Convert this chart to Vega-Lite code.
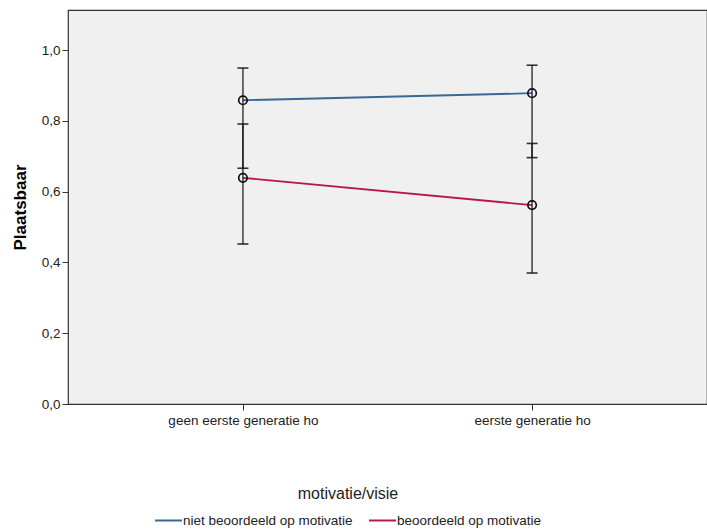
{
  "$schema": "https://vega.github.io/schema/vega-lite/v6.json",
  "width": 639,
  "height": 394,
  "autosize": {"type": "none"},
  "padding": {"left": 68, "top": 10, "right": 0, "bottom": 125},
  "background": "white",
  "data": {
    "values": [
      {"gen": "geen eerste generatie ho", "mot": "niet beoordeeld op motivatie", "mean": 0.858, "lo": 0.666, "hi": 0.949},
      {"gen": "geen eerste generatie ho", "mot": "beoordeeld op motivatie", "mean": 0.639, "lo": 0.452, "hi": 0.791},
      {"gen": "eerste generatie ho", "mot": "niet beoordeeld op motivatie", "mean": 0.878, "lo": 0.696, "hi": 0.957},
      {"gen": "eerste generatie ho", "mot": "beoordeeld op motivatie", "mean": 0.562, "lo": 0.370, "hi": 0.736}
    ]
  },
  "encoding": {
    "x": {
      "field": "gen",
      "type": "nominal",
      "sort": ["geen eerste generatie ho", "eerste generatie ho"],
      "scale": {"type": "point", "padding": 0.605},
      "axis": {
        "title": null,
        "labelAngle": 0,
        "domain": false,
        "tickColor": "#333",
        "tickSize": 6,
        "labelPadding": 3,
        "labelFont": "Liberation Sans",
        "labelFontSize": 13.5,
        "labelColor": "#222"
      }
    }
  },
  "layer": [
    {
      "mark": {"type": "line", "strokeWidth": 1.8},
      "encoding": {
        "y": {
          "field": "mean",
          "type": "quantitative",
          "scale": {"domain": [0, 1.113], "nice": false, "zero": true},
          "axis": {
            "title": "Plaatsbaar",
            "titleFont": "Liberation Sans",
            "titleFontSize": 17,
            "titleFontWeight": "bold",
            "titleColor": "#000",
            "titlePadding": 12,
            "values": [0, 0.2, 0.4, 0.6, 0.8, 1.0],
            "labelExpr": "replace(format(datum.value, '.1f'), '.', ',')",
            "grid": false,
            "domain": false,
            "tickColor": "#333",
            "tickSize": 6,
            "labelPadding": 2,
            "labelFont": "Liberation Sans",
            "labelFontSize": 13.5,
            "labelColor": "#222"
          }
        },
        "color": {
          "field": "mot",
          "type": "nominal",
          "scale": {
            "domain": ["niet beoordeeld op motivatie", "beoordeeld op motivatie"],
            "range": ["#3a6794", "#b5174f"]
          },
          "legend": {
            "title": "motivatie/visie",
            "orient": "none",
            "legendX": 86,
            "legendY": 476,
            "direction": "horizontal",
            "titleAnchor": "middle",
            "titleFont": "Liberation Sans",
            "titleFontSize": 16,
            "titleFontWeight": "normal",
            "titleColor": "#222",
            "titlePadding": 4,
            "labelFont": "Liberation Sans",
            "labelFontSize": 13.5,
            "labelColor": "#222",
            "labelLimit": 400,
            "labelOffset": 0,
            "symbolType": "stroke",
            "symbolSize": 729,
            "symbolStrokeWidth": 2,
            "columnPadding": 12,
            "padding": 0
          }
        }
      }
    },
    {
      "mark": {"type": "rule", "color": "#111", "strokeWidth": 1.6, "opacity": 0.75},
      "encoding": {
        "y": {"field": "lo", "type": "quantitative"},
        "y2": {"field": "hi"},
        "detail": {"field": "mot", "type": "nominal"}
      }
    },
    {
      "mark": {"type": "tick", "color": "#111", "thickness": 1.6, "size": 11, "opacity": 0.85},
      "encoding": {
        "y": {"field": "lo", "type": "quantitative"}
      }
    },
    {
      "mark": {"type": "tick", "color": "#111", "thickness": 1.6, "size": 11, "opacity": 0.85},
      "encoding": {
        "y": {"field": "hi", "type": "quantitative"}
      }
    },
    {
      "mark": {"type": "point", "shape": "circle", "filled": false, "size": 72, "strokeWidth": 1.7, "color": "#111", "opacity": 1},
      "encoding": {
        "y": {"field": "mean", "type": "quantitative"}
      }
    }
  ],
  "config": {
    "view": {"fill": "#f0f0f0", "stroke": "#333", "strokeWidth": 1.2}
  }
}
